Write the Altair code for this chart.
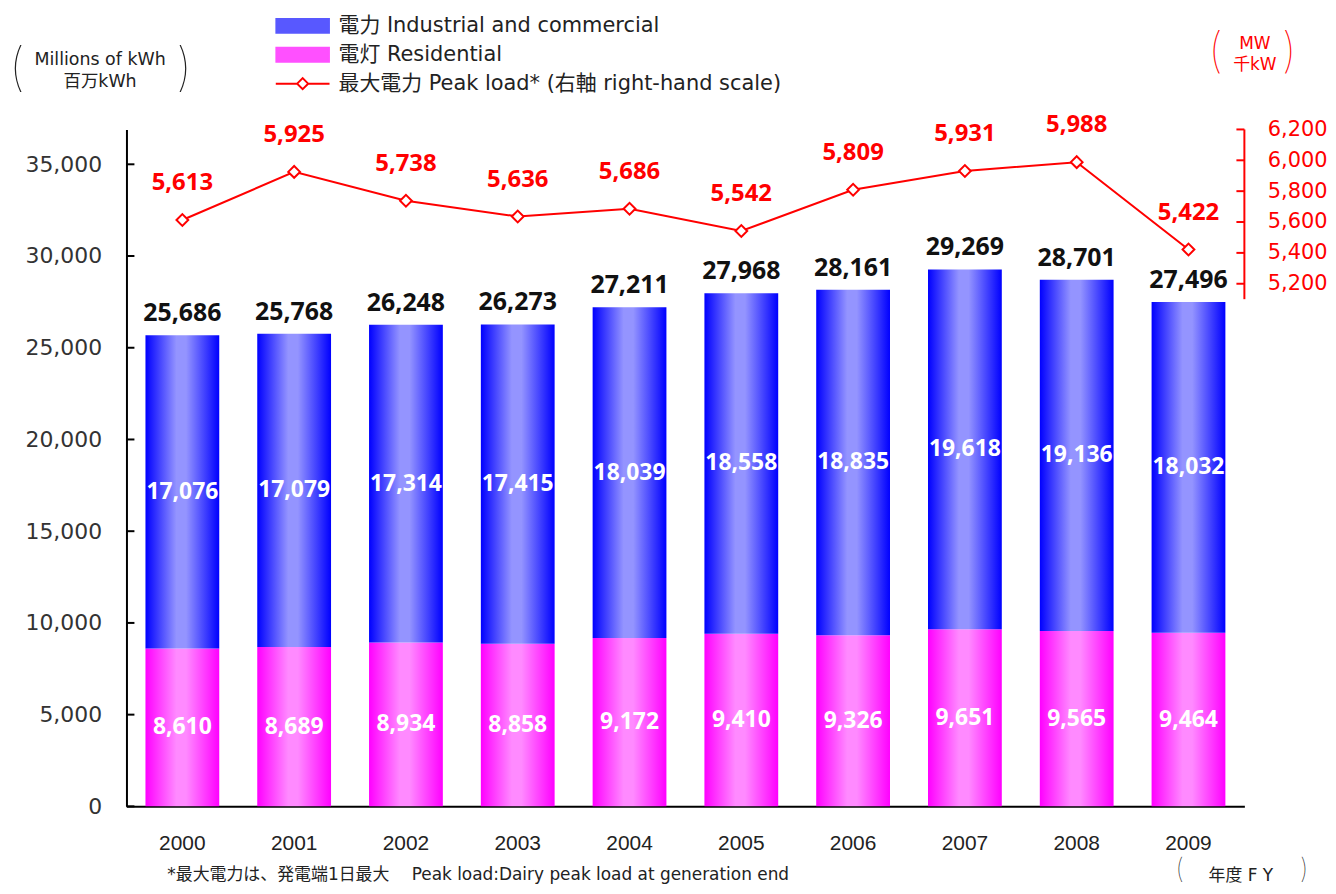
import altair as alt
import pandas as pd

years = ["2000", "2001", "2002", "2003", "2004", "2005", "2006", "2007", "2008", "2009"]
residential = [8610, 8689, 8934, 8858, 9172, 9410, 9326, 9651, 9565, 9464]
industrial = [17076, 17079, 17314, 17415, 18039, 18558, 18835, 19618, 19136, 18032]
peak_load = [5613, 5925, 5738, 5636, 5686, 5542, 5809, 5931, 5988, 5422]
left_ticks = [0, 5000, 10000, 15000, 20000, 25000, 30000, 35000]
right_ticks = [5200, 5400, 5600, 5800, 6000, 6200]
series_labels = ["電力 Industrial and commercial", "電灯 Residential",
                 "最大電力 Peak load* (右軸 right-hand scale)"]
left_title = ["Millions of kWh", "百万kWh"]
right_title = ["MW", "千kW"]
x_title = "年度 F Y"
footnote = "*最大電力は、発電端1日最大　 Peak load:Dairy peak load at generation end"

W, H = 1123, 680

df = pd.DataFrame({"year": years, "res": residential, "ind": industrial, "peak": peak_load})
df["total"] = df["res"] + df["ind"]
df["res_mid"] = df["res"] / 2
df["ind_mid"] = df["res"] + df["ind"] / 2

NUM_FONT = "Noto Sans"
AX_FONT = "DejaVu Sans"
TXT_FONT = "DejaVu Sans, Noto Sans CJK JP"

xscale = alt.Scale(paddingInner=0.34, paddingOuter=0.17)
xaxis = alt.Axis(title=x_title, labelAngle=0, ticks=False, tickSize=0, domainColor="black",
                 domainWidth=2, labelFont="Liberation Sans", labelFontSize=21, labelColor="#222",
                 labelPadding=26, titleX=1119, titleY=69, titleAlign="center",
                 titleBaseline="middle", titleFont=TXT_FONT, titleFontSize=17,
                 titleFontWeight="normal", titleColor="#222")
xenc = alt.X("year:N", scale=xscale, axis=xaxis, sort=years)

left_scale = alt.Scale(domain=[0, 36900], nice=False, zero=True)
left_axis = alt.Axis(values=left_ticks, format=",d", ticks=False, tickSize=0, grid=False,
                     domainColor="black", domainWidth=2, labelFont=AX_FONT, labelFontSize=22,
                     labelColor="#333", labelPadding=25, title=left_title, titleAngle=0,
                     titleX=-27, titleY=-79, titleAlign="center", titleBaseline="top",
                     titleFont=TXT_FONT, titleFontSize=17.5, titleFontWeight="normal",
                     titleLineHeight=22, titleColor="#222")

blue_grad = alt.Gradient(gradient="linear", x1=0, x2=1, y1=0, y2=0, stops=[
    alt.GradientStop(color="#0000ff", offset=0), alt.GradientStop(color="#9494ff", offset=0.42),
    alt.GradientStop(color="#9494ff", offset=0.55), alt.GradientStop(color="#0000ff", offset=1)])
pink_grad = alt.Gradient(gradient="linear", x1=0, x2=1, y1=0, y2=0, stops=[
    alt.GradientStop(color="#ff00ff", offset=0), alt.GradientStop(color="#ff8aff", offset=0.42),
    alt.GradientStop(color="#ff8aff", offset=0.55), alt.GradientStop(color="#ff00ff", offset=1)])

base = alt.Chart(df)
res_bar = base.mark_bar(color=pink_grad).encode(
    x=xenc, y=alt.Y("res:Q", scale=left_scale, axis=left_axis))
ind_bar = base.mark_bar(color=blue_grad).encode(
    x=xenc, y=alt.Y("total:Q", scale=left_scale, axis=left_axis), y2="res:Q")
res_txt = base.mark_text(color="white", font=NUM_FONT, fontWeight="bold", fontSize=23,
                         baseline="middle").encode(
    x=xenc, y=alt.Y("res_mid:Q", scale=left_scale, axis=left_axis),
    text=alt.Text("res:Q", format=","))
ind_txt = base.mark_text(color="white", font=NUM_FONT, fontWeight="bold", fontSize=23,
                         baseline="middle").encode(
    x=xenc, y=alt.Y("ind_mid:Q", scale=left_scale, axis=left_axis),
    text=alt.Text("ind:Q", format=","))
tot_txt = base.mark_text(color="#111", font=NUM_FONT, fontWeight="bold", fontSize=25,
                         baseline="middle", dy=-22).encode(
    x=xenc, y=alt.Y("total:Q", scale=left_scale, axis=left_axis),
    text=alt.Text("total:Q", format=","))
lt_rule = alt.Chart(pd.DataFrame({"v": left_ticks})).mark_rule(color="black", strokeWidth=2).encode(
    y=alt.Y("v:Q", scale=left_scale, axis=left_axis), x=alt.value(0), x2=alt.value(8))
bars_group = alt.layer(res_bar, ind_bar, res_txt, ind_txt, tot_txt, lt_rule)

peak_scale = alt.Scale(domain=[1813, 6200], nice=False, zero=False)
right_axis = alt.Axis(orient="right", values=right_ticks, format=",d", ticks=False, tickSize=0,
                      domain=False, grid=False, labelColor="red", labelFont=AX_FONT,
                      labelFontSize=21, labelPadding=23, title=right_title, titleAngle=0,
                      titleX=10, titleY=-94, titleAlign="center", titleBaseline="top",
                      titleFont=TXT_FONT, titleFontSize=17, titleFontWeight="normal",
                      titleLineHeight=21, titleColor="red")
peak_line = base.mark_line(color="red", strokeWidth=2).encode(
    x=xenc, y=alt.Y("peak:Q", scale=peak_scale, axis=right_axis))
peak_pts = base.mark_point(shape="diamond", filled=True, fill="white", stroke="red",
                           strokeWidth=2, size=140, opacity=1).encode(
    x=xenc, y=alt.Y("peak:Q", scale=peak_scale, axis=right_axis))
peak_txt = base.mark_text(color="red", font=NUM_FONT, fontWeight="bold", fontSize=24,
                          baseline="middle", dy=-37).encode(
    x=xenc, y=alt.Y("peak:Q", scale=peak_scale, axis=right_axis),
    text=alt.Text("peak:Q", format=","))
rt_rule = alt.Chart(pd.DataFrame({"v": right_ticks})).mark_rule(color="red", strokeWidth=2).encode(
    y=alt.Y("v:Q", scale=peak_scale, axis=right_axis), x=alt.value(W - 8), x2=alt.value(W))
r_axis_line = alt.Chart(alt.Data(values=[{}])).mark_rule(color="red", strokeWidth=2).encode(
    x=alt.value(W), y=alt.YDatum(5100, scale=peak_scale, axis=right_axis), y2=alt.Y2Datum(6200))
peak_group = alt.layer(peak_line, peak_pts, peak_txt, rt_rule, r_axis_line)

# symbol unit box is 24 px; paths extend beyond it so swatches are 53 x 14 px
rect_path = "M-2.2,-0.58H2.2V0.58H-2.2Z"
line_path = "M-2.25,0H-0.46M0.46,0H2.25M-0.46,0L0,-0.46L0.46,0L0,0.46Z"
leg = alt.Legend(orient="none", legendX=164, legendY=-117, title=None, direction="vertical",
                 labelFont=TXT_FONT, labelFontSize=21, labelColor="#222", labelLimit=0,
                 symbolSize=576, symbolStrokeWidth=2, labelOffset=23, rowPadding=5,
                 padding=0, symbolOpacity=1)
legend_layer = alt.Chart(alt.Data(values=[])).mark_point(filled=True).encode(
    fill=alt.Fill("series:N", scale=alt.Scale(domain=series_labels,
                  range=["#5858ff", "#ff50ff", "white"]), legend=leg),
    stroke=alt.Stroke("series:N", scale=alt.Scale(domain=series_labels,
                      range=["#5858ff", "#ff50ff", "red"]), legend=leg),
    shape=alt.Shape("series:N", scale=alt.Scale(domain=series_labels,
                    range=[rect_path, rect_path, line_path]), legend=leg),
)


def note(txt, x, y, size, color="#222", align="center", font=TXT_FONT, weight="normal"):
    return alt.Chart(alt.Data(values=[{}])).mark_text(
        text=txt, fontSize=size, color=color, align=align, baseline="middle", font=font,
        fontWeight=weight).encode(x=alt.value(x), y=alt.value(y))


notes = [
    note("(", -110, -61, 52, font="Inter", weight=100),
    note(")", 58, -61, 52, font="Inter", weight=100),
    note("(", 1094, -77, 48, color="red", font="Inter", weight=100),
    note(")", 1168, -77, 48, color="red", font="Inter", weight=100),
    note("(", 1058, 744, 28, font="Inter", weight=100),
    note(")", 1183, 744, 28, font="Inter", weight=100),
    note(footnote, 41, 749, 17, align="left"),
]

chart = alt.layer(bars_group, peak_group, legend_layer, *notes).resolve_scale(
    y="independent"
).properties(
    width=W, height=H, background="white",
    padding={"left": 119, "top": 120, "right": 84, "bottom": 78},
    autosize=alt.AutoSizeParams(type="none"),
).configure_view(stroke=None)

chart.save("out.html", embed_options={"renderer": "svg", "actions": False})
